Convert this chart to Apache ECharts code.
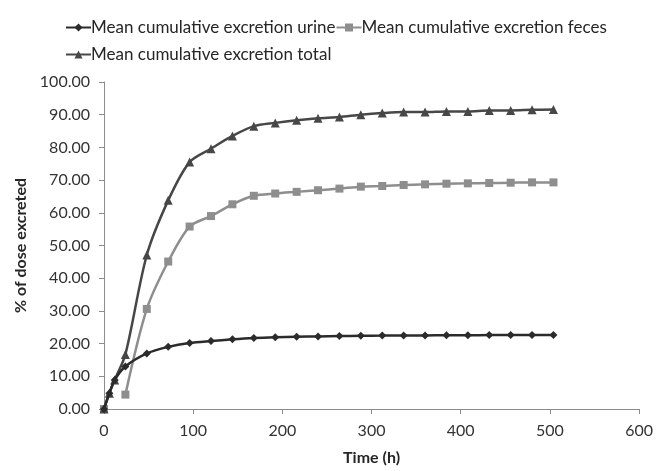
<!DOCTYPE html>
<html><head><meta charset="utf-8">
<script src="https://cdn.jsdelivr.net/npm/echarts@6/dist/echarts.min.js"></script>
<style>html,body{margin:0;padding:0;background:#fff}#c{width:656px;height:471px}</style>
</head><body><div id="c"></div>
<script>
const seriesNames = ['Mean cumulative excretion urine','Mean cumulative excretion feces','Mean cumulative excretion total'];
const timesUrine = [0,6,12,24,48,72,96,120,144,168,192,216,240,264,288,312,336,360,384,408,432,456,480,504];
const urine = [0,4.8,8.9,13.0,17.0,19.0,20.2,20.8,21.3,21.7,21.95,22.1,22.2,22.3,22.4,22.45,22.5,22.5,22.55,22.55,22.6,22.6,22.6,22.6];
const timesFeces = [0,6,12,24,48,72,96,120,144,168,192,216,240,264,288,312,336,360,384,408,432,456,480,504];
const feces = [0,null,null,4.4,30.6,45.1,55.8,59.0,62.6,65.2,65.9,66.4,66.9,67.4,68.0,68.2,68.5,68.7,68.9,69.0,69.1,69.2,69.3,69.3];
const timesTotal = [0,6,12,24,48,72,96,120,144,168,192,216,240,264,288,312,336,360,384,408,432,456,480,504];
const total = [0,4.8,8.9,16.7,47.1,63.8,75.5,79.6,83.5,86.5,87.5,88.3,88.9,89.3,90.0,90.5,90.8,90.8,91.0,91.0,91.3,91.3,91.5,91.6];
const xTicks = [0,100,200,300,400,500,600];
const yTicks = [0,10,20,30,40,50,60,70,80,90,100];

const pair = (ts, vs) => ts.map((t,i) => [t, vs[i] === null ? '-' : vs[i]]);
const FONT = 'Lato';
const legendText = {fontSize:17, color:'#262626', fontFamily:FONT, padding:[0,0,0,-5]};
const chart = echarts.init(document.getElementById('c'), null, {renderer:'canvas'});
chart.setOption({
  animation:false,
  backgroundColor:'#fff',
  textStyle:{fontFamily:FONT},
  legend:[
    {left:60, top:14, itemWidth:25, itemHeight:10, itemGap:0, textStyle:legendText,
     data:[seriesNames[0], seriesNames[1]]},
    {left:60, top:41, itemWidth:25, itemHeight:10, itemGap:0, textStyle:legendText,
     data:[seriesNames[2]]}
  ],
  grid:{left:104, right:15, top:82, bottom:56, containLabel:false},
  xAxis:{
    type:'value', min:xTicks[0], max:xTicks[xTicks.length-1], interval:100,
    name:'Time (h)', nameLocation:'middle', nameGap:41,
    nameTextStyle:{fontWeight:'bold', fontSize:16, color:'#262626', fontFamily:FONT},
    axisLine:{show:true, lineStyle:{color:'#8c8c8c', width:1}},
    axisTick:{show:true, length:5, lineStyle:{color:'#8c8c8c'}},
    axisLabel:{fontSize:16, color:'#333', margin:14},
    splitLine:{show:false}
  },
  yAxis:{
    type:'value', min:yTicks[0], max:yTicks[yTicks.length-1], interval:10,
    name:'% of dose excreted', nameLocation:'middle', nameGap:74, nameRotate:90,
    nameTextStyle:{fontWeight:'bold', fontSize:16, color:'#262626', fontFamily:FONT},
    axisLine:{show:true, lineStyle:{color:'#8c8c8c', width:1}},
    axisTick:{show:true, length:5, lineStyle:{color:'#8c8c8c'}},
    axisLabel:{fontSize:16, color:'#333', margin:14, formatter:v=>v.toFixed(2)},
    splitLine:{show:false}
  },
  series:[
    {name:seriesNames[0], type:'line', smooth:0.3, data:pair(timesUrine,urine),
     symbol:'diamond', symbolSize:8, showAllSymbol:true,
     lineStyle:{color:'#2b2b2b', width:2.5}, itemStyle:{color:'#2b2b2b'}, z:4},
    {name:seriesNames[1], type:'line', smooth:0.3, data:pair(timesFeces,feces), connectNulls:false,
     symbol:'rect', symbolSize:8, showAllSymbol:true,
     lineStyle:{color:'#8e8e8e', width:2.5}, itemStyle:{color:'#8e8e8e'}, z:2},
    {name:seriesNames[2], type:'line', smooth:0.3, data:pair(timesTotal,total),
     symbol:'triangle', symbolSize:9, showAllSymbol:true,
     lineStyle:{color:'#474747', width:2.5}, itemStyle:{color:'#474747'}, z:3}
  ]
});
</script></body></html>
